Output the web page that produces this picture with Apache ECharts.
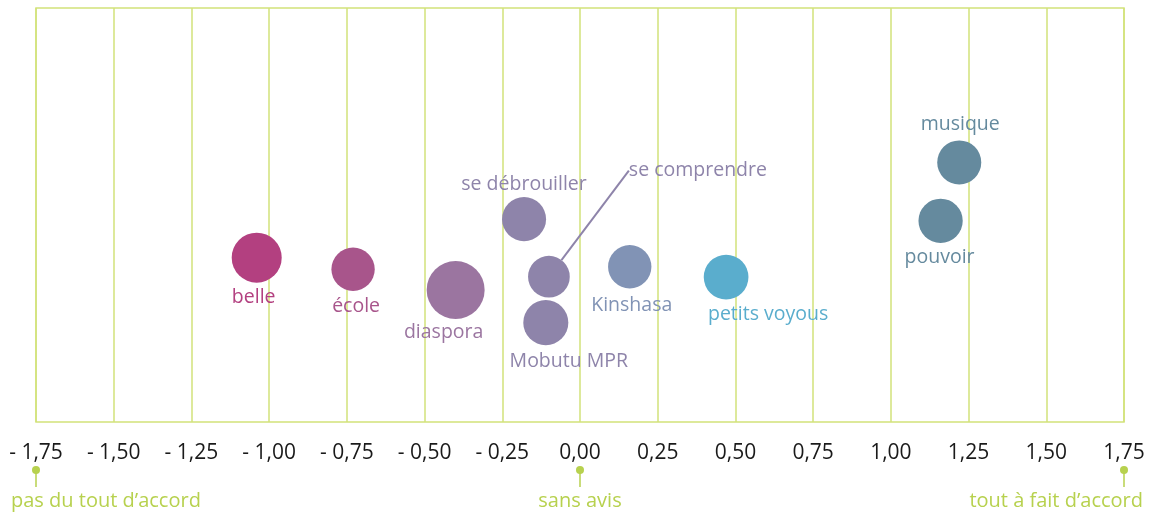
<!DOCTYPE html>
<html>
<head>
<meta charset="utf-8">
<script src="https://cdn.jsdelivr.net/npm/echarts@6/dist/echarts.min.js"></script>
<style>
html, body { margin: 0; padding: 0; background: #fff; }
#main { width: 1153px; height: 514px; }
</style>
</head>
<body>
<div id="main"></div>
<script>
// mots et positions sur l'échelle d'accord
var words = ['belle', 'école', 'diaspora', 'se débrouiller', 'se comprendre', 'Mobutu MPR', 'Kinshasa', 'petits voyous', 'musique', 'pouvoir'];
var agreement = [-1.04, -0.73, -0.40, -0.18, -0.10, -0.11, 0.16, 0.47, 1.22, 1.16];
var spread = [39.7, 36.9, 31.9, 49.0, 35.1, 24.0, 37.5, 35.0, 62.7, 48.6];
var weight = [25, 18.8, 33.6, 19.4, 17.4, 20.3, 18.8, 20, 19.4, 19.6];
var anchors = [-1.75, 0, 1.75];
var anchorNames = ['pas du tout d’accord', 'sans avis', 'tout à fait d’accord'];

var colors = ['#b34080', '#a8558b', '#9b75a0', '#8e84aa', '#8e84aa', '#8e84aa', '#8193b5', '#5aadcd', '#658a9e', '#658a9e'];
// décalage des étiquettes par rapport au centre des bulles
var labelOffsets = [[-3, 40], [3, 37], [-12, 43], [0, -35], [149, -106], [23, 39], [2, 39], [42, 37], [1, -38], [-1, 37]];
var green = '#b7d14e';
var gridGreen = '#d2e27a';
var font = '"Open Sans", sans-serif';

function tickLabel(v) {
    var s = Math.abs(v).toFixed(2).replace('.', ',');
    return v < -1e-9 ? '- ' + s : s;
}

var myChart = echarts.init(document.getElementById('main'), null, {renderer: 'canvas'});

var sc = words.indexOf('se comprendre');
var bubbles = words.map(function (w, i) {
    var b = {
        name: w,
        value: [agreement[i], spread[i], weight[i]],
        itemStyle: {color: colors[i], opacity: 1},
        label: {color: colors[i]}
    };
    if (i === sc) {
        b.labelLine = {show: true, lineStyle: {color: colors[i], width: 2, opacity: 1}};
    }
    return b;
});

var option = {
    animation: false,
    textStyle: {fontFamily: font},
    grid: [
        {left: 36, right: 29, top: 8, height: 414, show: true, borderColor: gridGreen, borderWidth: 1.5},
        {left: 36, right: 29, top: 470, height: 30}
    ],
    xAxis: [{
        gridIndex: 0,
        type: 'value',
        min: -1.75,
        max: 1.75,
        interval: 0.25,
        axisLine: {show: false},
        axisTick: {show: false},
        splitLine: {show: true, lineStyle: {color: gridGreen, width: 1.5}},
        axisLabel: {
            margin: 21,
            color: '#1a1a1a',
            fontSize: 21,
            fontFamily: font,
            formatter: tickLabel
        }
    }, {
        gridIndex: 1,
        type: 'value',
        min: -1.75,
        max: 1.75,
        show: false
    }],
    yAxis: [{
        gridIndex: 0,
        type: 'value',
        min: 0,
        max: 100,
        show: false
    }, {
        gridIndex: 1,
        type: 'value',
        min: 0,
        max: 1,
        show: false
    }],
    series: [{
        type: 'scatter',
        xAxisIndex: 0,
        yAxisIndex: 0,
        silent: true,
        itemStyle: {opacity: 1},
        symbolSize: function (v) {
            return Math.sqrt(v[2]) * 10;
        },
        label: {
            show: true,
            position: 'inside',
            fontSize: 19.5,
            fontFamily: font,
            textBorderWidth: 0,
            formatter: '{b}'
        },
        labelLine: {show: false},
        labelLayout: function (p) {
            var o = labelOffsets[p.dataIndex];
            return {dx: o[0], dy: o[1]};
        },
        data: bubbles
    }, {
        type: 'custom',
        xAxisIndex: 1,
        yAxisIndex: 1,
        silent: true,
        renderItem: function (params, api) {
            var p = api.coord([api.value(0), api.value(1)]);
            var i = api.value(2);
            var align = ['left', 'center', 'right'][i];
            var tx = p[0] + [-25, 0, 19][i];
            return {
                type: 'group',
                children: [
                    {type: 'line', shape: {x1: p[0], y1: p[1], x2: p[0], y2: p[1] + 17}, style: {stroke: green, lineWidth: 1.5}},
                    {type: 'circle', shape: {cx: p[0], cy: p[1], r: 4}, style: {fill: green}},
                    {type: 'text', x: tx, y: p[1] + 31, style: {text: anchorNames[i], fill: green, font: '20px ' + font, align: align, verticalAlign: 'middle'}}
                ]
            };
        },
        data: anchors.map(function (a, i) { return [a, 1, i]; })
    }]
};
myChart.setOption(option);
</script>
</body>
</html>
